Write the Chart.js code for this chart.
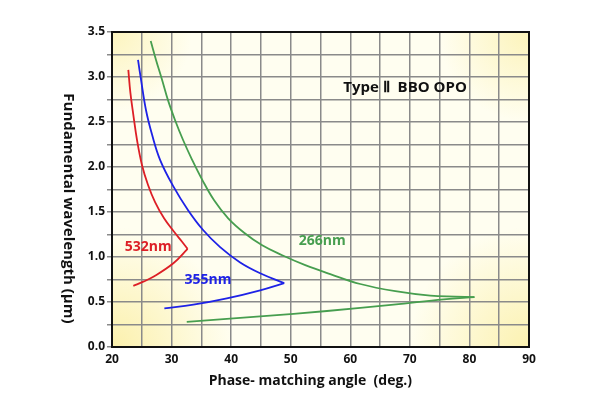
<!DOCTYPE html>
<html>
<head>
<meta charset="utf-8">
<script src="https://cdn.jsdelivr.net/npm/chart.js@4/dist/chart.umd.min.js"></script>
<style>
    html, body { margin: 0; padding: 0; background: #fff; }
    #wrap { width: 600px; height: 400px; }
</style>
</head>
<body>
<div id="wrap"><canvas id="opo"></canvas></div>
<script>
// 532nm накачка: верхняя и нижняя ветви
const red532UpX = [22.74, 23.08, 23.58, 24.20, 25.04, 26.05, 27.23, 28.74, 30.42, 31.76, 32.69];
const red532UpY = [3.08, 2.83, 2.58, 2.30, 2.02, 1.80, 1.61, 1.43, 1.28, 1.17, 1.09];
const red532LowX = [32.69, 30.30, 26.94, 25.26, 23.58];
const red532LowY = [1.09, 0.93, 0.78, 0.726, 0.68];

// 355nm
const blue355UpX = [24.37, 24.87, 25.71, 26.72, 28.07, 30.25, 32.77, 35.29, 38.15, 41.51, 44.87, 48.91];
const blue355UpY = [3.19, 2.97, 2.63, 2.36, 2.08, 1.79, 1.52, 1.30, 1.11, 0.94, 0.82, 0.71];
const blue355LowX = [48.91, 44.87, 39.28, 33.66, 28.79];
const blue355LowY = [0.71, 0.63, 0.54, 0.47, 0.43];

// 266nm
const green266UpX = [26.50, 27.39, 28.40, 29.41, 30.59, 31.93, 33.45, 35.13, 37.14, 39.50, 42.18, 45.21, 48.57, 52.44, 56.64, 61.68, 67.56, 73.45, 77.65, 80.84];
const green266UpY = [3.40, 3.19, 2.97, 2.74, 2.52, 2.30, 2.08, 1.86, 1.63, 1.43, 1.27, 1.13, 1.02, 0.91, 0.81, 0.70, 0.62, 0.57, 0.56, 0.555];
const green266LowX = [80.84, 75.68, 67.28, 56.08, 44.87, 32.55];
const green266LowY = [0.555, 0.53, 0.47, 0.40, 0.34, 0.28];

const xTicksShown = [20, 30, 40, 50, 60, 70, 80, 90];
const yTicksShown = [0.0, 0.5, 1.0, 1.5, 2.0, 2.5, 3.0, 3.5];

const FONT = "'Open Sans', 'Noto Sans', sans-serif";

const toPoints = (xs, ys) => xs.map((x, i) => ({x: x, y: ys[i]}));

const line = (xs, ys, color) => ({
    data: toPoints(xs, ys),
    borderColor: color,
    borderWidth: 1.8,
    pointRadius: 0,
    tension: 0.4,
    fill: false
});

// фон с жёлтыми углами + подписи + рамка
const decor = {
    id: "decor",
    beforeDraw(chart) {
        const {ctx, chartArea: a} = chart;
        ctx.save();
        ctx.fillStyle = "#fffef0";
        ctx.fillRect(a.left, a.top, a.right - a.left, a.bottom - a.top);
        const corners = [
            [a.left, a.top, 80, 0.55], [a.left, a.bottom, 120, 0.75],
            [a.right, a.top, 90, 0.6], [a.right, a.bottom, 120, 0.7]
        ];
        corners.forEach(([cx, cy, r, al]) => {
            const g = ctx.createRadialGradient(cx, cy, 0, cx, cy, r);
            g.addColorStop(0, `rgba(250, 236, 150, ${al})`);
            g.addColorStop(1, "rgba(250, 236, 150, 0)");
            ctx.fillStyle = g;
            ctx.fillRect(a.left, a.top, a.right - a.left, a.bottom - a.top);
        });
        ctx.restore();
    },
    afterDraw(chart) {
        const {ctx, chartArea: a, scales: {x, y}} = chart;
        ctx.save();
        ctx.strokeStyle = "#111";
        ctx.lineWidth = 2;
        ctx.strokeRect(a.left, a.top, a.right - a.left, a.bottom - a.top);

        ctx.font = "bold 14px " + FONT;
        ctx.textAlign = "center";
        ctx.textBaseline = "middle";
        ctx.fillStyle = "#dd1f26";
        ctx.fillText("532nm", x.getPixelForValue(26.1), y.getPixelForValue(1.11));
        ctx.fillStyle = "#1e22e6";
        ctx.fillText("355nm", x.getPixelForValue(36.1), y.getPixelForValue(0.74));
        ctx.fillStyle = "#479e4f";
        ctx.fillText("266nm", x.getPixelForValue(55.3), y.getPixelForValue(1.18));

        ctx.fillStyle = "#111";
        ctx.font = "bold 15px " + FONT;
        ctx.fillText("Type \u2161  BBO OPO", x.getPixelForValue(69.2), y.getPixelForValue(2.88));

        // подписи осей, смещены как в оригинале
        ctx.font = "bold 14px " + FONT;
        ctx.fillText("Phase- matching angle  (deg.)", x.getPixelForValue(53.3), a.bottom + 34);

        ctx.font = "bold 15px " + FONT;
        ctx.translate(a.left - 44, y.getPixelForValue(1.54));
        ctx.rotate(Math.PI / 2);
        ctx.fillText("Fundamental wavelength (\u03bcm)", 0, 0);
        ctx.restore();
    }
};

new Chart(document.getElementById("opo"), {
    type: "line",
    data: {
        datasets: [
            line(red532UpX, red532UpY, "#dd1f26"),
            line(red532LowX, red532LowY, "#dd1f26"),
            line(blue355UpX, blue355UpY, "#1e22e6"),
            line(blue355LowX, blue355LowY, "#1e22e6"),
            line(green266UpX, green266UpY, "#479e4f"),
            line(green266LowX, green266LowY, "#479e4f")
        ]
    },
    options: {
        responsive: true,
        maintainAspectRatio: false,
        animation: false,
        layout: { padding: { left: 57, right: 71, top: 32, bottom: 0 } },
        plugins: {
            legend: { display: false },
            tooltip: { enabled: false }
        },
        scales: {
            x: {
                type: "linear",
                min: 20,
                max: 90,
                afterFit: (s) => { s.height = 53; },
                ticks: {
                    stepSize: 5,
                    autoSkip: false,
                    maxRotation: 0,
                    padding: 5,
                    color: "#111",
                    font: { family: FONT, size: 12, weight: "bold" },
                    callback: (v) => xTicksShown.includes(v) ? String(v) : ""
                },
                grid: { color: "#8a8a8a", lineWidth: 1.5, drawTicks: false },
                border: { color: "#111", width: 2 }
            },
            y: {
                type: "linear",
                min: 0,
                max: 3.5,
                afterFit: (s) => { s.width = 55; },
                ticks: {
                    stepSize: 0.25,
                    autoSkip: false,
                    padding: 2,
                    color: "#111",
                    font: { family: FONT, size: 12, weight: "bold" },
                    callback: (v) => yTicksShown.some(t => Math.abs(t - v) < 1e-6) ? v.toFixed(1) : ""
                },
                grid: { color: "#8a8a8a", lineWidth: 1.5, tickLength: 5 },
                border: { color: "#111", width: 2 }
            }
        }
    },
    plugins: [decor]
});
</script>
</body>
</html>
